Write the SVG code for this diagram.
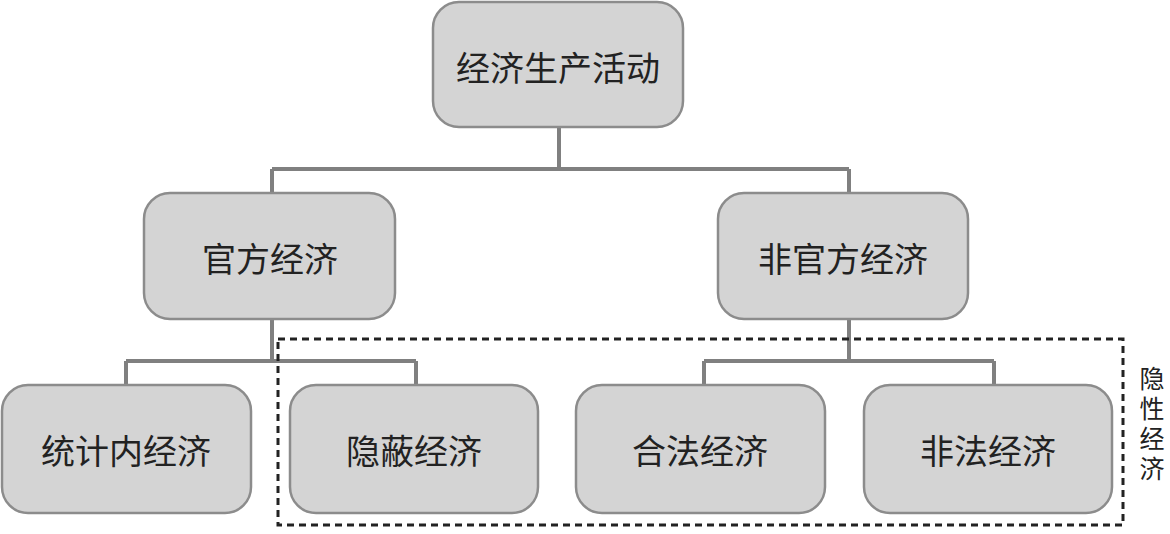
<svg xmlns="http://www.w3.org/2000/svg" width="1170" height="534" viewBox="0 0 1170 534">
<style>
.box{fill:#d4d4d4;stroke:#8c8c8c;stroke-width:2.5}
.lbl{font-family:"Noto Sans CJK SC","Noto Sans CJK JP",sans-serif;font-size:34px;fill:#222;text-anchor:middle;dominant-baseline:central}
.side{font-family:"Noto Sans CJK SC","Noto Sans CJK JP",sans-serif;font-size:25px;fill:#222;writing-mode:vertical-rl;letter-spacing:5px}
.conn{fill:none;stroke:#808080;stroke-width:4}
</style>
<rect width="1170" height="534" fill="#fff"/>
<g id="connectors">
<path class="conn" d="M559 127V169M272 169H849M272 169V193M849 169V193"/>
<path class="conn" d="M272 319V361M126 361H416M126 361V385M416 361V385"/>
<path class="conn" d="M849 319V361M704 361H994M704 361V385M994 361V385"/>
</g>
<g id="n-root"><rect class="box" x="433" y="2" width="250" height="125" rx="26"/><text class="lbl" x="558" y="66">经济生产活动</text></g>
<g id="n-official"><rect class="box" x="144" y="193" width="251" height="126" rx="26"/><text class="lbl" x="270" y="257">官方经济</text></g>
<g id="n-unofficial"><rect class="box" x="718" y="193" width="250" height="126" rx="26"/><text class="lbl" x="843" y="257">非官方经济</text></g>
<g id="n-stat"><rect class="box" x="2" y="385" width="249" height="128" rx="26"/><text class="lbl" x="126" y="449">统计内经济</text></g>
<g id="n-hidden"><rect class="box" x="290" y="385" width="248" height="128" rx="26"/><text class="lbl" x="414" y="449">隐蔽经济</text></g>
<g id="n-legal"><rect class="box" x="576" y="385" width="249" height="128" rx="26"/><text class="lbl" x="700" y="449">合法经济</text></g>
<g id="n-illegal"><rect class="box" x="864" y="385" width="248" height="128" rx="26"/><text class="lbl" x="988" y="449">非法经济</text></g>
<g id="hidden-group">
<rect x="278" y="339" width="845" height="186" fill="none" stroke="#222" stroke-width="3" stroke-dasharray="7 5"/>
<text class="side" x="1152" y="366">隐性经济</text>
</g>
</svg>
